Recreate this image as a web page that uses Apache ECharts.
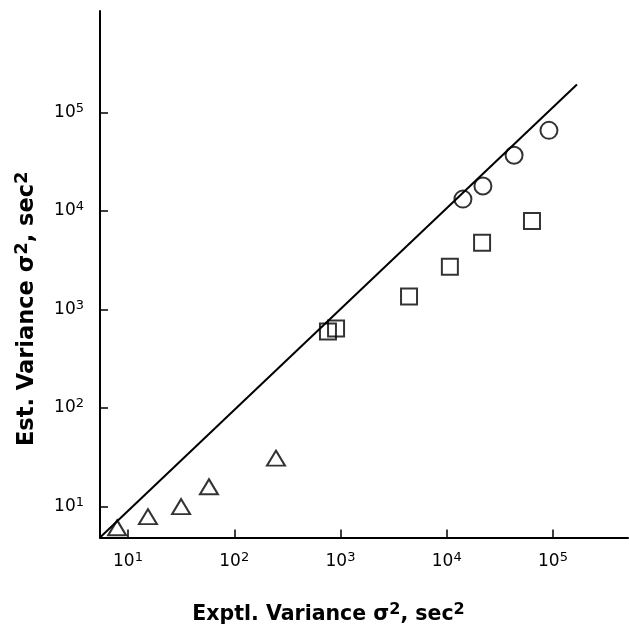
<!DOCTYPE html>
<html>
<head>
<meta charset="utf-8">
<script src="https://cdn.jsdelivr.net/npm/echarts@6/dist/echarts.min.js"></script>
<style>html,body{margin:0;padding:0;background:#fff}#c{width:629px;height:630px}</style>
</head>
<body>
<div id="c"></div>
<script>
// Data
var triX = [7.9, 15.4, 31.6, 57.8, 247];
var triY = [6.1, 7.9, 10, 15.9, 31];
var sqX = [762, 908, 4416, 10700, 21500, 63400];
var sqY = [600, 643, 1352, 2716, 4750, 7925];
var ciX = [14200, 21900, 43000, 91600];
var ciY = [13200, 17900, 36800, 65800];
var lineX = [5.45, 168000];
var lineY = [4.86, 192000];
var tickValues = [10, 100, 1000, 10000, 100000];
var tickExp = ['1', '2', '3', '4', '5'];

function pairs(xs, ys) { return xs.map(function (x, i) { return [x, ys[i]]; }); }
function fmt(v) {
  var i = -1;
  for (var k = 0; k < tickValues.length; k++) if (Math.abs(tickValues[k] - v) / tickValues[k] < 1e-6) i = k;
  return i < 0 ? '' : '{b|10}{s|' + tickExp[i] + '}';
}
var FONT = '"DejaVu Sans", "Liberation Sans", Arial, sans-serif';
var labelRich = {
  b: { fontSize: 17, fontFamily: FONT, color: '#000' },
  s: { fontSize: 13, fontFamily: FONT, color: '#000', verticalAlign: 'top', padding: [0, 0, 8, 0] }
};
function nameRich(size) {
  return {
    n: { fontSize: size, fontWeight: 'bold', fontFamily: FONT, color: '#000' },
    p: { fontSize: Math.round(size * 0.78), fontWeight: 'bold', fontFamily: FONT, color: '#000', padding: [0, 0, Math.round(size * 0.5), 0] }
  };
}
var axisCommon = {
  type: 'log',
  logBase: 10,
  splitLine: { show: false },
  axisLine: { show: true, lineStyle: { color: '#000', width: 2 } },
  axisTick: { show: true, inside: true, length: 8, customValues: tickValues, lineStyle: { color: '#000', width: 1.5 } },
  axisLabel: { customValues: tickValues, formatter: fmt, rich: labelRich, color: '#000' }
};
var chart = echarts.init(document.getElementById('c'), null, { renderer: 'canvas' });
var sym = { color: 'transparent', borderColor: '#000', borderWidth: 2 };
chart.setOption({
  animation: false,
  backgroundColor: '#fff',
  grid: { left: 100, right: 1, top: 11, bottom: 90, containLabel: false },
  xAxis: Object.assign({}, axisCommon, {
    min: 5.45, max: 508000,
    axisLabel: Object.assign({}, axisCommon.axisLabel, { margin: 14 }),
    name: '{n|Exptl. Variance σ}{p|2}{n|, sec}{p|2}',
    nameLocation: 'middle', nameGap: 64,
    nameTextStyle: { rich: nameRich(20.5), padding: [0, 71, 0, 0] }
  }),
  yAxis: Object.assign({}, axisCommon, {
    min: 4.86, max: 1070000,
    axisLabel: Object.assign({}, axisCommon.axisLabel, { margin: 16 }),
    name: '{n|Est. Variance σ}{p|2}{n|, sec}{p|2}',
    nameLocation: 'middle', nameGap: 58, nameRotate: 90,
    nameTextStyle: { rich: nameRich(22.5), padding: [0, 69, 0, 0] }
  }),
  series: [
    { type: 'line', data: pairs(lineX, lineY), symbol: 'none', clip: true,
      lineStyle: { color: '#000', width: 2 }, z: 1 },
    { type: 'scatter', data: pairs(triX, triY), symbol: 'triangle', symbolSize: [18, 15], itemStyle: sym, z: 2 },
    { type: 'scatter', data: pairs(sqX, sqY), symbol: 'rect', symbolSize: 16, itemStyle: sym, z: 2 },
    { type: 'scatter', data: pairs(ciX, ciY), symbol: 'circle', symbolSize: 17, itemStyle: sym, z: 2 }
  ]
});
</script>
</body>
</html>
